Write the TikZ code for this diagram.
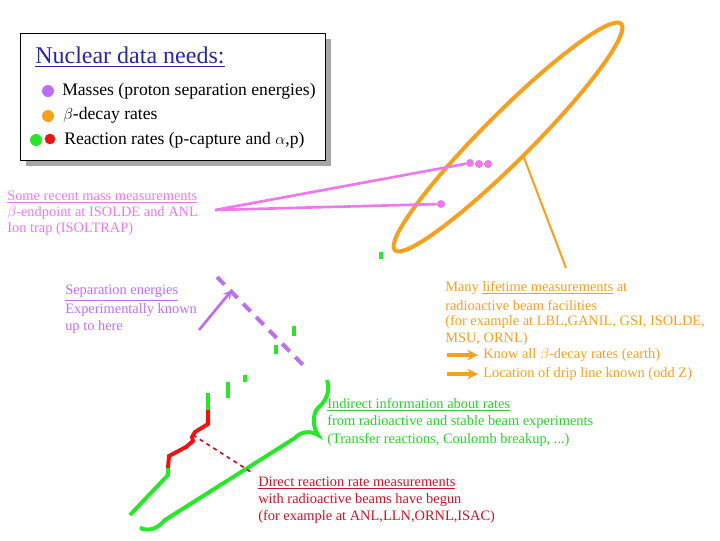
\documentclass[tikz,border=0pt]{standalone}
\usepackage{fontspec}
\setmainfont{Liberation Serif}
\begin{document}
\begin{tikzpicture}[x=0.75pt,y=-0.75pt,
 txt/.style={anchor=west,inner sep=0pt,font=\fontsize{10.8}{12}\selectfont},
 lg/.style={anchor=west,inner sep=0pt,font=\fontsize{13.2}{15}\selectfont},
 dot/.style={circle,inner sep=0pt,minimum size=9pt},
 thk/.style={line width=3pt}]
\definecolor{pk}{RGB}{238,120,238}
\definecolor{pu}{RGB}{190,110,240}
\definecolor{og}{RGB}{245,160,30}
\definecolor{gn}{RGB}{40,230,40}
\definecolor{gt}{RGB}{40,210,40}
\definecolor{rd}{RGB}{235,20,20}
\definecolor{dr}{RGB}{200,20,40}
\definecolor{bl}{RGB}{40,40,160}
\useasboundingbox (0,0) rectangle (720,540);
% legend box
\fill[gray!70] (26,39) rectangle (331,166);
\node[draw,thick,fill=white,minimum width=305*0.75pt,minimum height=127*0.75pt,anchor=north west,inner sep=0pt] (box) at (20,33) {};
\node[txt,text=bl,font=\fontsize{18}{20}\selectfont] (title) at (35,57) {\underline{Nuclear data needs:}};
\node[dot,fill=pu] (b1) at (48,91) {};
\node[lg] (t1) at (62,91) {Masses (proton separation energies)};
\node[dot,fill=og] (b2) at (48,116) {};
\node[lg] (t2) at (63,115) {$\beta$-decay rates};
\node[dot,fill=gn] (b3) at (36,140) {};
\node[dot,fill=rd,minimum size=8pt] (b4) at (50,139) {};
\node[lg] (t3) at (64,140) {Reaction rates (p-capture and $\alpha$,p)};
% orange ellipse
\draw[og,line width=3pt,rotate around={45:(508,137)}] (508,137) ellipse[x radius=160,y radius=24];
\coordinate (oe) at (523,155);
\coordinate (ot) at (566,268);
\draw[og,line width=1.5pt] (oe) -- (ot);
% pink mass lines
\node[txt,text=pk] (m1) at (7,197) {\underline{Some recent mass measurements}};
\node[txt,text=pk] (m2) at (7,213) {$\beta$-endpoint at ISOLDE and ANL};
\node[txt,text=pk] (m3) at (7,229) {Ion trap (ISOLTRAP)};
\coordinate (pk0) at (215,210);
\node[dot,fill=pk,minimum size=6pt] (d1) at (470,163) {};
\node[dot,fill=pk,minimum size=6pt] (d2) at (479,164) {};
\node[dot,fill=pk,minimum size=6pt] (d3) at (488,164) {};
\node[dot,fill=pk,minimum size=6pt] (d4) at (441,204) {};
\draw[pk,line width=2pt] (d1) -- (pk0) -- (d4);
% green dashes
\draw[gn,thk] (381,252) -- (381,259);
\draw[gn,thk] (294,326) -- (294,336);
\draw[gn,thk] (276,345) -- (276,354);
\draw[gn,thk] (245,375) -- (245,382);
\draw[gn,thk] (228,382) -- (228,398);
% staircase
\draw[gn,thk] (208,393) -- (208,410);
\draw[rd,thk] (208,410) -- (208,424) -- (195,432) -- (192,437) -- (193,441) -- (186,447) -- (169,456) -- (168,468);
\draw[gn,thk] (168,468) -- (168,475) -- (130,515);
% brace
\draw[gn,thk] (327,380) .. controls (331,392) and (325,402) .. (318,408) .. controls (312,414) and (313,428) .. (318,435)
 .. controls (310,430) and (300,432) .. (295,438) -- (165,520) .. controls (158,528) and (150,532) .. (140,528);
% purple dashed and arrow
\draw[pu,line width=3pt,dash pattern=on 8pt off 6pt] (217,277) -- (306,368);
\node[txt,text=pu] (s1) at (65,293) {\underline{Separation energies}};
\node[txt,text=pu] (s2) at (65,310) {Experimentally known};
\node[txt,text=pu] (s3) at (65,327) {up to here};
\coordinate (sa) at (199,330);
\coordinate (sb) at (232,290);
\draw[pu,line width=2pt,-stealth] (sa) -- (sb);
% red dashed
\coordinate (r0) at (193,435);
\coordinate (r1) at (251,472);
\draw[dr,line width=1.3pt,dashed] (r0) -- (r1);
% orange text
\node[txt,text=og] (o1) at (445,288) {Many \underline{lifetime measurements} at};
\node[txt,text=og] (o2) at (445,305) {radioactive beam facilities};
\node[txt,text=og] (o3) at (445,322) {(for example at LBL,GANIL, GSI, ISOLDE,};
\node[txt,text=og] (o4) at (445,339) {MSU, ORNL)};
\coordinate (a1) at (447,355); \coordinate (a2) at (478,355);
\coordinate (a3) at (447,374); \coordinate (a4) at (478,374);
\draw[og,line width=2.5pt,-stealth] (a1) -- (a2);
\draw[og,line width=2.5pt,-stealth] (a3) -- (a4);
\node[txt,text=og] (o5) at (483,355) {Know all $\beta$-decay rates (earth)};
\node[txt,text=og] (o6) at (483,374) {Location of drip line known (odd Z)};
% green text
\node[txt,text=gt] (g1) at (327,405) {\underline{Indirect information about rates}};
\node[txt,text=gt] (g2) at (327,422) {from radioactive and stable beam experiments};
\node[txt,text=gt] (g3) at (327,440) {(Transfer reactions, Coulomb breakup, ...)};
% red text
\node[txt,text=dr] (e1) at (258,483) {\underline{Direct reaction rate measurements}};
\node[txt,text=dr] (e2) at (258,500) {with radioactive beams have begun};
\node[txt,text=dr] (e3) at (258,517) {(for example at ANL,LLN,ORNL,ISAC)};
\end{tikzpicture}
\end{document}
